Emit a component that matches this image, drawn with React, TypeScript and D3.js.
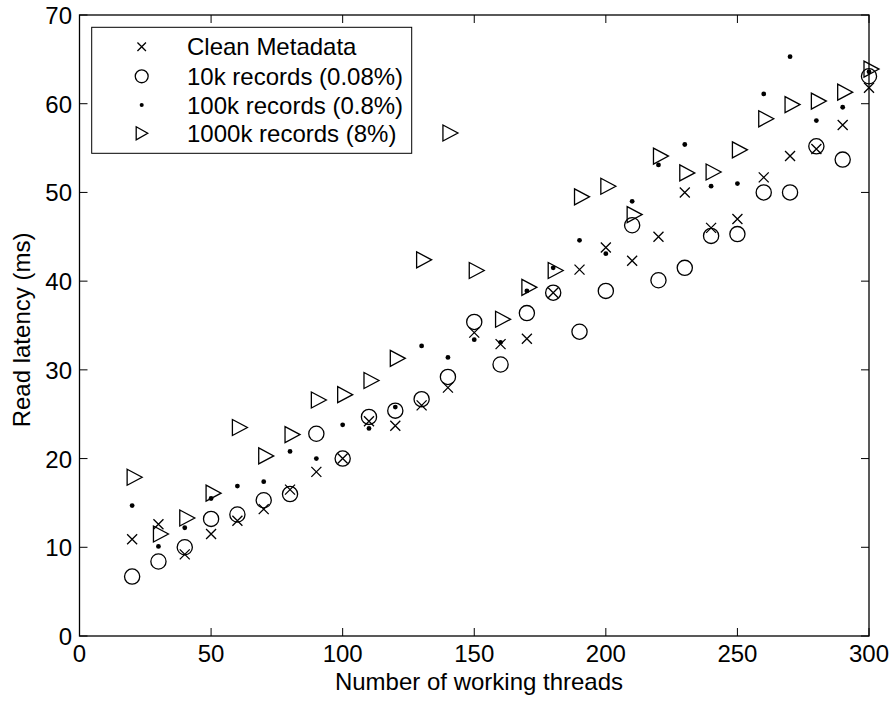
import React from 'react';
import * as d3 from 'd3';

const threads = [20, 30, 40, 50, 60, 70, 80, 90, 100, 110, 120, 130, 140, 150, 160, 170, 180, 190, 200, 210, 220, 230, 240, 250, 260, 270, 280, 290, 300];
const cleanMetadata = [10.9, 12.6, 9.2, 11.5, 13.0, 14.3, 16.5, 18.5, 20.0, 24.2, 23.7, 26.0, 28.0, 34.2, 32.9, 33.5, 38.7, 41.3, 43.8, 42.3, 45.0, 50.0, 46.0, 47.0, 51.7, 54.1, 54.9, 57.6, 61.8];
const records10k = [6.7, 8.4, 10.0, 13.2, 13.7, 15.3, 16.0, 22.8, 20.0, 24.7, 25.4, 26.7, 29.2, 35.4, 30.6, 36.4, 38.7, 34.3, 38.9, 46.3, 40.1, 41.5, 45.1, 45.3, 50.0, 50.0, 55.2, 53.7, 63.1];
const records100k = [14.7, 10.1, 12.2, 15.5, 16.9, 17.4, 20.8, 20.0, 23.8, 23.4, 25.8, 32.7, 31.4, 33.4, 33.1, 38.9, 41.5, 44.6, 43.1, 49.0, 53.1, 55.4, 50.7, 51.0, 61.1, 65.3, 58.1, 59.6, 63.6];
const records1000k = [17.9, 11.5, 13.3, 16.1, 23.5, 20.3, 22.7, 26.6, 27.2, 28.8, 31.3, 42.4, 56.7, 41.2, 35.7, 39.3, 41.2, 49.5, 50.7, 47.5, 54.1, 52.2, 52.3, 54.8, 58.3, 59.9, 60.3, 61.3, 63.9];
const seriesNames = ['Clean Metadata', '10k records (0.08%)', '100k records (0.8%)', '1000k records (8%)'];
const xTicks = [0, 50, 100, 150, 200, 250, 300];
const yTicks = [0, 10, 20, 30, 40, 50, 60, 70];
const xTitle = 'Number of working threads';
const yTitle = 'Read latency (ms)';

const W = 892;
const H = 702;
const L = 79.5, R = 869, T = 15, B = 636;
const FONT = '"Liberation Sans", Arial, Helvetica, sans-serif';
const SW = 1.3;

type Kind = 'x' | 'o' | 'dot' | 'tri';

function Marker({ kind, cx, cy, s = 1 }: { kind: Kind; cx: number; cy: number; s?: number }) {
  if (kind === 'x') {
    const h = 5 * s;
    return (
      <path d={`M${cx - h},${cy - h}L${cx + h},${cy + h}M${cx - h},${cy + h}L${cx + h},${cy - h}`} stroke="#000" strokeWidth={SW} fill="none" />
    );
  }
  if (kind === 'o') {
    return <circle cx={cx} cy={cy} r={7.6 * s} stroke="#000" strokeWidth={SW} fill="none" />;
  }
  if (kind === 'dot') {
    return <circle cx={cx} cy={cy} r={2.4 * s} fill="#000" />;
  }
  const pts = s === 1
    ? [[cx - 5, cy - 8], [cx + 10, cy], [cx - 5, cy + 8]]
    : [[cx - 5.5, cy - 6.5], [cx + 6, cy], [cx - 5.5, cy + 6.5]];
  return <polygon points={pts.map((p) => p.join(',')).join(' ')} stroke="#000" strokeWidth={SW} fill="none" strokeLinejoin="miter" />;
}

export default function App() {
  const x = d3.scaleLinear().domain([0, 300]).range([L, R]);
  const y = d3.scaleLinear().domain([0, 70]).range([B, T]);

  const series: { kind: Kind; values: number[] }[] = [
    { kind: 'x', values: cleanMetadata },
    { kind: 'o', values: records10k },
    { kind: 'dot', values: records100k },
    { kind: 'tri', values: records1000k },
  ];
  const kinds: Kind[] = ['x', 'o', 'dot', 'tri'];

  const tickLen = 8;
  const textStyle = { fontFamily: FONT, fontSize: 24 } as React.CSSProperties;

  const legendX = 91.7, legendY = 27.3, legendW = 320, legendH = 126;
  const rowY = [46.7, 76.3, 105, 133.3];

  return (
    <svg width={W} height={H} style={{ position: 'absolute', left: 0, top: 0, background: '#fff' }}>
      <rect x={0} y={0} width={W} height={H} fill="#fff" />
      {xTicks.map((t) => (
        <g key={'xt' + t}>
          <line x1={x(t)} x2={x(t)} y1={B} y2={B - tickLen} stroke="#000" strokeWidth={1} />
          <line x1={x(t)} x2={x(t)} y1={T} y2={T + tickLen} stroke="#000" strokeWidth={1} />
          <text x={x(t)} y={662} textAnchor="middle" style={textStyle}>{t}</text>
        </g>
      ))}
      {yTicks.map((t) => (
        <g key={'yt' + t}>
          <line x1={L} x2={L + tickLen} y1={y(t)} y2={y(t)} stroke="#000" strokeWidth={1} />
          <line x1={R} x2={R - tickLen} y1={y(t)} y2={y(t)} stroke="#000" strokeWidth={1} />
          <text x={72} y={y(t) + 9} textAnchor="end" style={textStyle}>{t}</text>
        </g>
      ))}
      <rect x={L} y={T} width={R - L} height={B - T} fill="none" stroke="#000" strokeWidth={1.3} />
      <text x={479} y={690} textAnchor="middle" style={textStyle}>{xTitle}</text>
      <text transform={`translate(30,330) rotate(-90)`} textAnchor="middle" style={textStyle}>{yTitle}</text>
      {series.map((s, si) => (
        <g key={'s' + si}>
          {s.values.map((v, i) => (
            <Marker key={i} kind={s.kind} cx={x(threads[i])} cy={y(v)} />
          ))}
        </g>
      ))}
      <rect x={legendX} y={legendY} width={legendW} height={legendH} fill="#fff" stroke="#000" strokeWidth={1} />
      {seriesNames.map((name, i) => (
        <g key={'lg' + i}>
          <Marker kind={kinds[i]} cx={141.7} cy={rowY[i]} s={0.85} />
          <text x={187} y={rowY[i] + 8.5} style={textStyle}>{name}</text>
        </g>
      ))}
    </svg>
  );
}
